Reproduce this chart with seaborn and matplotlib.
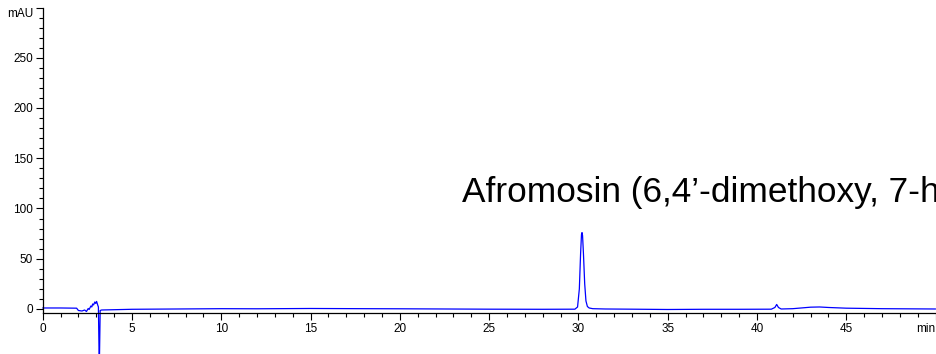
import matplotlib
matplotlib.use("Agg")
import matplotlib.pyplot as plt
from matplotlib.ticker import MultipleLocator
import seaborn as sns
import pandas as pd

# ─────────────────────────────────────────────
# chromatogram trace (min, mAU)
# ─────────────────────────────────────────────
time_min = [0.0, 1.0, 1.9, 2.0, 2.2, 2.35, 2.45, 2.55, 2.6, 2.7, 2.75, 2.8,
            2.85, 2.92, 2.97, 3.02, 3.08, 3.12, 3.17, 3.22, 3.3,
            5.0, 10.0, 12.0, 15.0, 18.0, 20.0, 25.0, 28.0, 29.8,
            29.95, 30.05, 30.12, 30.17, 30.2, 30.23, 30.28, 30.35, 30.42,
            30.5, 30.6, 30.8, 31.5, 33.0, 35.0, 37.0, 39.0,
            40.8, 41.0, 41.1, 41.2, 41.35, 42.0, 43.0, 43.5, 44.0,
            45.0, 47.0, 50.0]
signal_mau = [1.0, 1.0, 0.8, -1.5, -2.0, -1.0, -2.5, 0.5, -0.5, 3.0, 2.0, 5.0,
              4.0, 7.0, 5.5, 7.5, 4.0, 2.0, -60.0, -1.5, -1.0,
              -0.3, 0.3, 0.2, 0.5, 0.3, 0.2, -0.2, -0.3, -0.2,
              2.0, 20.0, 55.0, 74.0, 76.0, 73.0, 55.0, 25.0, 8.0,
              2.5, 1.0, 0.3, 0.0, -0.2, -0.5, -0.3, -0.3,
              -0.2, 1.5, 4.5, 1.5, 0.0, 0.3, 1.8, 2.0, 1.5,
              0.8, 0.3, 0.0]

x_ticks = [0, 5, 10, 15, 20, 25, 30, 35, 40, 45, 50]
x_tick_labels = ["0", "5", "10", "15", "20", "25", "30", "35", "40", "45", "min"]
y_ticks = [0, 50, 100, 150, 200, 250, 300]
y_tick_labels = ["0", "50", "100", "150", "200", "250", "mAU"]

peak_label = "Afromosin (6,4\u2019-dimethoxy, 7-hydroxyisoflavone)"
peak_label_pos = (23.5, 106.5)

df = pd.DataFrame({"time": time_min, "mAU": signal_mau})

# ─────────────────────────────────────────────
# style
# ─────────────────────────────────────────────
sns.set_style("ticks")
plt.rcParams["font.family"] = ["Liberation Sans", "DejaVu Sans"]

fig = plt.figure(figsize=(9.36, 3.54), dpi=100)
ax = fig.add_axes([0.0456, 0.1158, 0.954, 0.863])

sns.lineplot(data=df, x="time", y="mAU", ax=ax, color="#0000ff",
             lw=0.9, estimator=None, sort=False)

ax.set_xlim(0, 50)
ax.set_ylim(-4, 300)

# trace may run below the x axis (solvent front dip)
for ln in ax.lines:
    ln.set_clip_on(False)

ax.set_xticks(x_ticks)
ax.set_xticklabels(x_tick_labels)
ax.set_yticks(y_ticks)
ax.set_yticklabels(y_tick_labels)
ax.xaxis.set_minor_locator(MultipleLocator(1))
ax.yaxis.set_minor_locator(MultipleLocator(10))

ax.tick_params(axis="both", which="major", length=5, width=0.8,
               labelsize=8.5, pad=2, color="black", labelcolor="black")
ax.tick_params(axis="both", which="minor", length=3, width=0.8, color="black")

ax.get_xticklabels()[-1].set_horizontalalignment("right")
ax.get_yticklabels()[-1].set_verticalalignment("top")

for side in ["top", "right"]:
    ax.spines[side].set_visible(False)
for side in ["left", "bottom"]:
    ax.spines[side].set_color("black")
    ax.spines[side].set_linewidth(0.9)

ax.set_xlabel("")
ax.set_ylabel("")

ax.text(peak_label_pos[0], peak_label_pos[1], peak_label, fontsize=25.4,
        ha="left", va="baseline", color="black", clip_on=False)

plt.savefig("out.png", dpi=100)
